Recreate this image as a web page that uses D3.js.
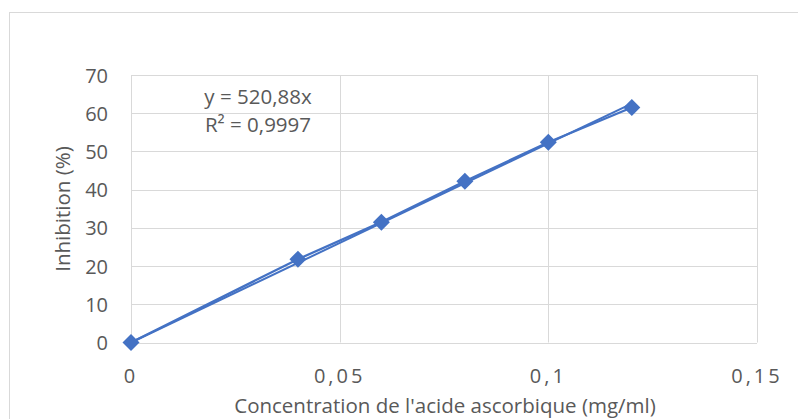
<!DOCTYPE html>
<html>
<head>
<meta charset="utf-8">
<script src="https://cdn.jsdelivr.net/npm/d3@7"></script>
<style>
  body { margin: 0; background: #fff; }
  text { font-family: "Open Sans", "Noto Sans", sans-serif; fill: #595959; }
</style>
</head>
<body>
<svg></svg>
<script>
// data
const concentration = [0, 0.04, 0.06, 0.08, 0.1, 0.12];
const inhibition = [0, 21.8, 31.5, 42.2, 52.4, 61.5];
const slope = 520.88;
const xTicks = [0, 0.05, 0.1, 0.15];
const xTickLabels = ["0", "0,05", "0,1", "0,15"];
const yTicks = [0, 10, 20, 30, 40, 50, 60, 70];
const equationLines = ["y = 520,88x", "R² = 0,9997"];

const svg = d3.select("svg").attr("width", 798).attr("height", 419);

// chart frame
svg.append("rect")
  .attr("x", 9.5).attr("y", 12.5)
  .attr("width", 800).attr("height", 420)
  .attr("fill", "none").attr("stroke", "#d9d9d9");

const x = d3.scaleLinear().domain([0, 0.15]).range([131, 757]);
const y = d3.scaleLinear().domain([0, 70]).range([342.5, 75]);

// gridlines
svg.append("g").selectAll("line")
  .data(yTicks)
  .enter()
  .append("line")
  .attr("x1", x(0)).attr("x2", x(0.15))
  .attr("y1", d => Math.round(y(d)) + 0.5).attr("y2", d => Math.round(y(d)) + 0.5)
  .attr("stroke", "#d9d9d9");

svg.append("g").selectAll("line")
  .data(xTicks)
  .enter()
  .append("line")
  .attr("x1", d => Math.round(x(d)) + 0.5).attr("x2", d => Math.round(x(d)) + 0.5)
  .attr("y1", y(70)).attr("y2", y(0))
  .attr("stroke", "#d9d9d9");

// y tick labels
svg.append("g").selectAll("text")
  .data(yTicks)
  .enter()
  .append("text")
  .attr("x", 108)
  .attr("y", d => y(d) + 7.5)
  .attr("text-anchor", "end")
  .style("font-size", "20px")
  .text(d => d);

// x tick labels
svg.append("g").selectAll("text")
  .data(xTicks)
  .enter()
  .append("text")
  .attr("x", d => x(d))
  .attr("y", 383)
  .attr("text-anchor", "middle")
  .style("font-size", "20px")
  .style("letter-spacing", "3px")
  .text((d, i) => xTickLabels[i]);

// axis titles
svg.append("text")
  .attr("x", 445).attr("y", 413)
  .attr("text-anchor", "middle")
  .style("font-size", "20.5px")
  .text("Concentration de l'acide ascorbique (mg/ml)");

svg.append("text")
  .attr("transform", "translate(70, 209) rotate(-90)")
  .attr("text-anchor", "middle")
  .style("font-size", "20.5px")
  .text("Inhibition (%)");

// trendline y = slope * x
const xMax = d3.max(concentration);
svg.append("path")
  .datum([0, xMax])
  .attr("d", d3.line().x(d => x(d)).y(d => y(slope * d)))
  .attr("fill", "none")
  .attr("stroke", "#4472c4")
  .attr("stroke-width", 2);

// series line
const points = concentration.map((c, i) => [c, inhibition[i]]);
svg.append("path")
  .datum(points)
  .attr("d", d3.line().x(d => x(d[0])).y(d => y(d[1])))
  .attr("fill", "none")
  .attr("stroke", "#4472c4")
  .attr("stroke-width", 2.25);

// diamond markers
svg.append("g").selectAll("path")
  .data(points)
  .enter()
  .append("path")
  .attr("transform", d => `translate(${x(d[0])}, ${y(d[1])})`)
  .attr("d", "M0,-8.5L8.5,0L0,8.5L-8.5,0Z")
  .attr("fill", "#4472c4");

// equation label
svg.append("g").selectAll("text")
  .data(equationLines)
  .enter()
  .append("text")
  .attr("x", 258)
  .attr("y", (d, i) => 104 + i * 28)
  .attr("text-anchor", "middle")
  .style("font-size", "20.5px")
  .text(d => d);
</script>
</body>
</html>
